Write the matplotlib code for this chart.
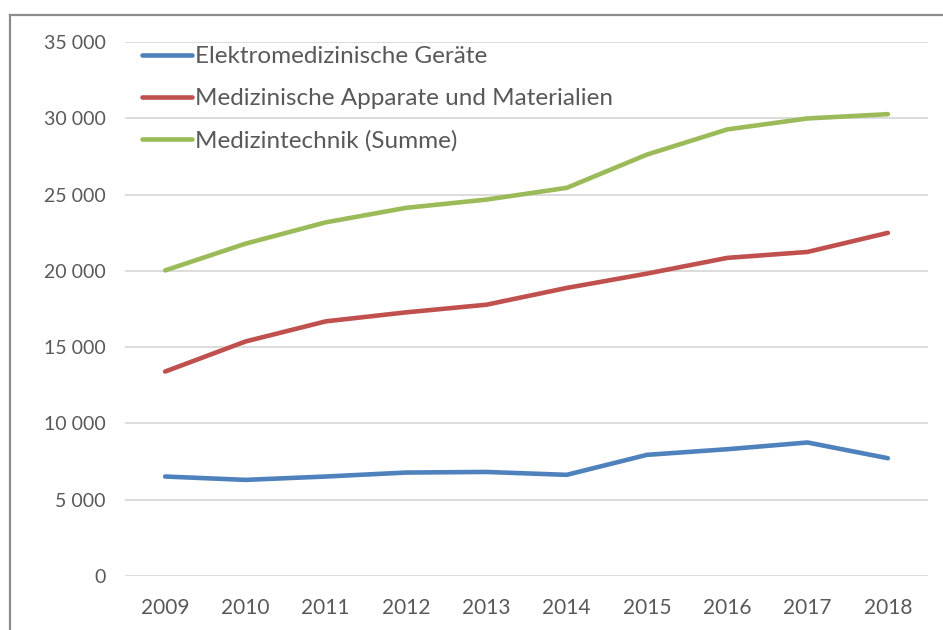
import matplotlib
matplotlib.use("Agg")
import matplotlib.pyplot as plt
from matplotlib.lines import Line2D
from matplotlib.ticker import FuncFormatter

years = ["2009", "2010", "2011", "2012", "2013", "2014", "2015", "2016", "2017", "2018"]
elektro = [6520, 6300, 6520, 6780, 6820, 6630, 7940, 8310, 8750, 7720]
apparate = [13400, 15370, 16690, 17280, 17780, 18880, 19820, 20850, 21240, 22490]
summe = [20030, 21780, 23180, 24130, 24670, 25440, 27620, 29270, 29990, 30270]
labels = ["Elektromedizinische Geräte", "Medizinische Apparate und Materialien", "Medizintechnik (Summe)"]
yticks = [0, 5000, 10000, 15000, 20000, 25000, 30000, 35000]

plt.rcParams['font.family'] = ['Lato', 'DejaVu Sans']
text_color = "#595959"

fig = plt.figure(figsize=(9.43, 6.30), dpi=100)
ax = fig.add_axes([125/943, 1-576/630, (928-125)/943, (576-42)/630])

x = list(range(len(years)))
ax.plot(x, elektro, color="#4f81bd", lw=3.3, solid_capstyle='round', solid_joinstyle='round', label=labels[0])
ax.plot(x, apparate, color="#c0504d", lw=3.3, solid_capstyle='round', solid_joinstyle='round', label=labels[1])
ax.plot(x, summe, color="#9bbb59", lw=3.3, solid_capstyle='round', solid_joinstyle='round', label=labels[2])

ax.set_xlim(-0.5, len(years)-0.5)
ax.set_ylim(0, 35000)
ax.set_yticks(yticks)
ax.yaxis.set_major_formatter(FuncFormatter(lambda v, p: f"{int(v):,}".replace(",", " ")))
ax.set_xticks(x)
ax.set_xticklabels(years)
ax.grid(axis='y', color="#d9d9d9", lw=1.3)
ax.set_axisbelow(True)
for s in ax.spines.values():
    s.set_visible(False)
ax.tick_params(axis='y', length=0, pad=14, labelsize=14, labelcolor=text_color)
ax.tick_params(axis='x', length=0, pad=16, labelsize=15, labelcolor=text_color)

leg = ax.legend(loc='upper left', bbox_to_anchor=(17/803, 0.992), frameon=False,
                fontsize=17.5, handlelength=2.05, handletextpad=0.12,
                labelspacing=0.86, borderpad=0, borderaxespad=0)
for t in leg.get_texts():
    t.set_color(text_color)

# outer frame (left and top)
fig.add_artist(Line2D([10/943, 10/943], [0, 1-15/630], transform=fig.transFigure, color="#8c8c8c", lw=1.6))
fig.add_artist(Line2D([10/943, 1], [1-15/630, 1-15/630], transform=fig.transFigure, color="#8c8c8c", lw=1.6))

fig.savefig("out.png", dpi=100)
